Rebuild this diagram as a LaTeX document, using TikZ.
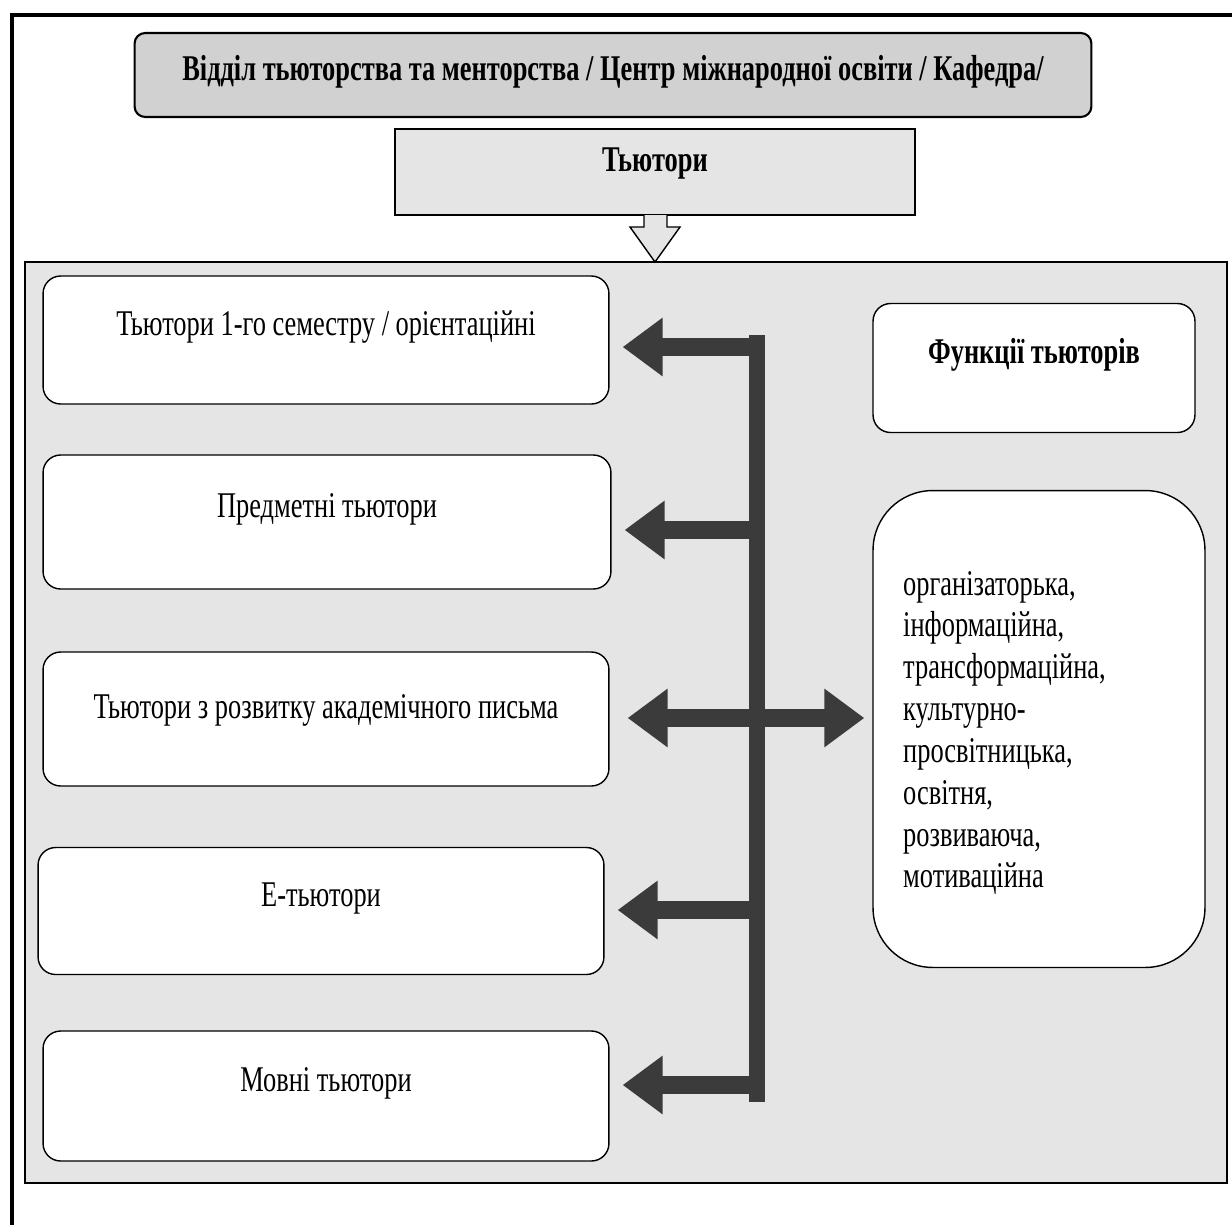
\documentclass[tikz,border=0pt]{standalone}
\usepackage{fontspec}
\setmainfont{Liberation Serif}[FakeStretch=0.73]
\usetikzlibrary{arrows.meta}
\begin{document}
\begin{tikzpicture}[x=0.02cm,y=-0.02cm,
	box/.style={draw,fill=white,line width=0.8pt,rounded corners=10pt},
	txt/.style={font=\fontsize{20.6}{23.8}\selectfont},
	bigarrow/.style={draw=black!77,line width=0.36cm,-{Triangle[length=0.8cm,width=1.12cm]}}]
	\useasboundingbox (0,0) rectangle (1232,1225);
	\draw[line width=2pt] (12,1260) -- (12,15) -- (1260,15);
	\node[box,fill=black!18,rounded corners=6pt,line width=1.2pt,minimum width=19.14cm,minimum height=1.68cm] (dept) at (613,75) {};
	\node[txt,font=\fontsize{20.6}{23.8}\selectfont\bfseries] (deptt) at (613,72) {Відділ тьюторства та менторства / Центр міжнародної освіти / Кафедра/};
	\node[draw,fill=black!10,line width=1pt,minimum width=10.4cm,minimum height=1.72cm] (tut) at (655,172) {};
	\node[txt,font=\fontsize{20.6}{23.8}\selectfont\bfseries] (tutt) at (655,163) {Тьютори};
	\draw[line width=1.6pt,fill=black!10] (25,262) rectangle (1227,1183);
	\filldraw[fill=black!10,line width=0.8pt] (644,215) -- (644,227) -- (630,227) -- (655,262) -- (680,227) -- (667,227) -- (667,215);
	% left boxes
	\node[box,minimum width=11.32cm,minimum height=2.56cm] (b1) at (326,340) {};
	\node[txt] (b1t) at (326,327) {Тьютори 1-го семестру / орієнтаційні};
	\node[box,minimum width=11.36cm,minimum height=2.68cm] (b2) at (327,522) {};
	\node[txt] (b2t) at (327,509) {Предметні тьютори};
	\node[box,minimum width=11.32cm,minimum height=2.68cm] (b3) at (326,719) {};
	\node[txt] (b3t) at (326,710) {Тьютори з розвитку академічного письма};
	\node[box,minimum width=11.32cm,minimum height=2.54cm] (b4) at (321,911) {};
	\node[txt] (b4t) at (321,898) {Е-тьютори};
	\node[box,minimum width=11.32cm,minimum height=2.6cm] (b5) at (326,1096) {};
	\node[txt] (b5t) at (326,1083) {Мовні тьютори};
	% right boxes
	\node[box,minimum width=6.44cm,minimum height=2.58cm] (f1) at (1034,368) {};
	\node[txt,font=\fontsize{20.6}{23.8}\selectfont\bfseries] (f1t) at (1034,355) {Функції тьюторів};
	\node[box,rounded corners=34pt,minimum width=6.64cm,minimum height=9.54cm] (f2) at (1039,729) {};
	\node[txt,align=left,anchor=west] (f2t) at (897,733) {організаторька,\\інформаційна,\\трансформаційна,\\культурно-\\просвітницька,\\освітня,\\розвиваюча,\\мотиваційна};
	% arrows
	\draw[draw=black!77,line width=0.32cm] (757,335) -- (757,1102);
	\foreach \b/\y in {b1/347,b2/530,b4/910,b5/1085}{
		\coordinate (j\b) at (757,\y);
		\draw[bigarrow,shorten >=0.26cm] (j\b) -- (j\b -| \b.east);
	}
	\coordinate (jb3) at (757,718);
	\draw[bigarrow,{Triangle[length=0.8cm,width=1.12cm]}-{Triangle[length=0.8cm,width=1.12cm]},shorten <=0.36cm,shorten >=0.16cm] (jb3 -| b3.east) -- (jb3 -| f2.west);
\end{tikzpicture}
\end{document}
